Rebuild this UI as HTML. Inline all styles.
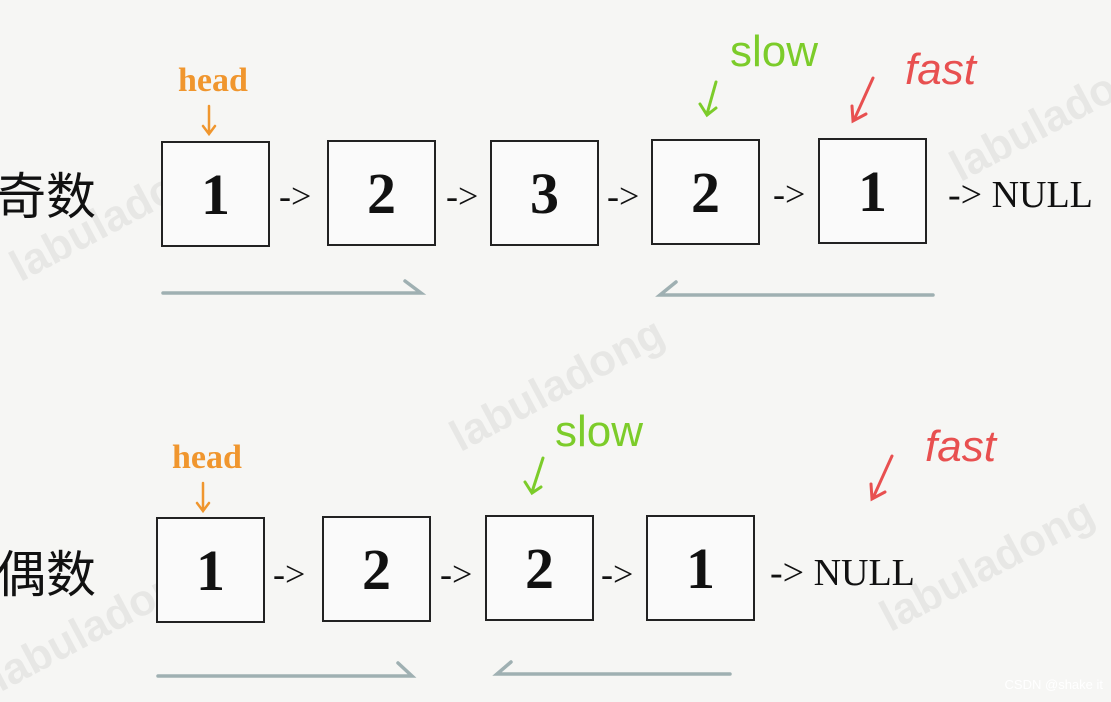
<!DOCTYPE html>
<html><head><meta charset="utf-8"><style>
body{margin:0;width:1111px;height:698px;background:#f6f6f4;position:relative;overflow:hidden;font-family:"Liberation Serif",serif}
.b{position:absolute;width:109px;height:106px;border:2.5px solid #222;background:#fafafa;box-sizing:border-box;text-align:center;line-height:104px;font-size:58px;color:#111;font-weight:bold}
.t{position:absolute;font-size:36px;color:#111;line-height:1}
.cn{position:absolute;font-family:"Noto Sans CJK SC",sans-serif;font-size:50px;color:#111;line-height:1}
.h{position:absolute;font-size:34px;color:#f0962e;font-weight:bold;line-height:1}
.s{position:absolute;font-family:"Liberation Sans",sans-serif;font-size:44px;color:#7ccc2a;line-height:1}
.f{position:absolute;font-family:"Liberation Sans",sans-serif;font-size:44px;color:#e85050;line-height:1;font-style:italic}
.w{position:absolute;font-family:"Liberation Sans",sans-serif;font-size:44px;color:rgba(0,0,0,0.06);font-weight:bold;transform:rotate(-28deg)}
</style></head><body>
<div class="w" style="left:0;top:190px">labuladong</div>
<div class="w" style="left:440px;top:360px">labuladong</div>
<div class="w" style="left:940px;top:90px">labuladong</div>
<div class="w" style="left:870px;top:540px">labuladong</div>
<div class="w" style="left:-20px;top:600px">labuladong</div>

<div class="cn" style="left:-4px;top:168px">奇数</div>
<div class="cn" style="left:-4px;top:546px">偶数</div>

<div class="h" style="left:178px;top:64px">head</div>
<div class="h" style="left:172px;top:441px">head</div>
<div class="s" style="left:730px;top:30px">slow</div>
<div class="s" style="left:555px;top:410px">slow</div>
<div class="f" style="left:905px;top:48px">fast</div>
<div class="f" style="left:925px;top:425px">fast</div>

<div class="b" style="left:161px;top:141px">1</div>
<div class="b" style="left:327px;top:140px">2</div>
<div class="b" style="left:490px;top:140px">3</div>
<div class="b" style="left:651px;top:139px">2</div>
<div class="b" style="left:818px;top:138px">1</div>
<div class="t" style="left:279px;top:178px">-&gt;</div>
<div class="t" style="left:446px;top:178px">-&gt;</div>
<div class="t" style="left:607px;top:178px">-&gt;</div>
<div class="t" style="left:773px;top:176px">-&gt;</div>
<div class="t" style="left:948px;top:176px;font-size:38px">-&gt; NULL</div>

<div class="b" style="left:156px;top:517px">1</div>
<div class="b" style="left:322px;top:516px">2</div>
<div class="b" style="left:485px;top:515px">2</div>
<div class="b" style="left:646px;top:515px">1</div>
<div class="t" style="left:273px;top:556px">-&gt;</div>
<div class="t" style="left:440px;top:556px">-&gt;</div>
<div class="t" style="left:601px;top:556px">-&gt;</div>
<div class="t" style="left:770px;top:554px;font-size:38px">-&gt; NULL</div>

<svg width="1111" height="698" style="position:absolute;left:0;top:0" fill="none" stroke-linecap="round">
<g stroke="#9fb0b2" stroke-width="3.5">
<path d="M163 293 L421 293 L405 281"/>
<path d="M933 295 L660 295 L676 282"/>
<path d="M158 676 L412 676 L398 663"/>
<path d="M730 674 L497 674 L511 662"/>
</g>
<g stroke="#f0962e" stroke-width="2.5"><path d="M209 106 L209 133 M203 126 L209 134 L215 126"/><path d="M203 483 L203 510 M197 503 L203 511 L209 503"/></g>
<g stroke="#7ccc2a" stroke-width="3"><path d="M716 82 L707 114 M700 104 L707 115 L716 108"/><path d="M543 458 L532 492 M525 482 L532 493 L541 487"/></g>
<g stroke="#e85050" stroke-width="3"><path d="M873 78 L854 120 M852 106 L853 121 L866 114"/><path d="M892 456 L873 498 M871 484 L872 499 L885 492"/></g>
</svg>
<div style="position:absolute;right:8px;bottom:6px;font-family:'Liberation Sans',sans-serif;font-size:13px;color:#fff">CSDN @shake it</div>
</body></html>
